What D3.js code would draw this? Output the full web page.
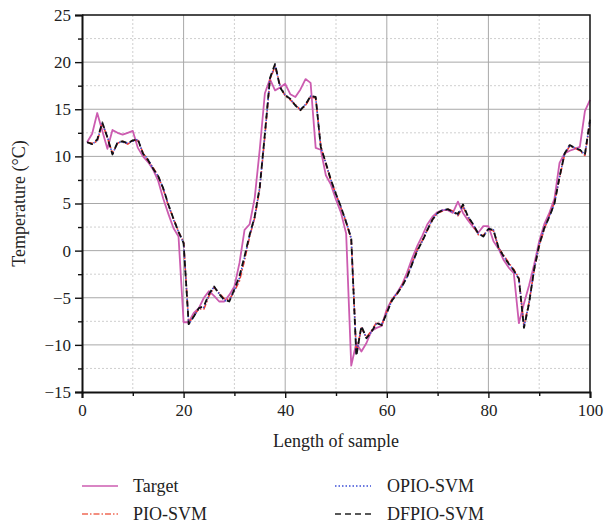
<!DOCTYPE html>
<html>
<head>
<meta charset="utf-8">
<script src="https://cdn.jsdelivr.net/npm/d3@7"></script>
<style>
  body { margin: 0; background: #fff; }
  svg text { font-family: "Liberation Serif", "Times New Roman", Times, "DejaVu Serif", "Noto Serif", serif; }
</style>
</head>
<body>
<div id="wrapper"></div>
<script>
// data (sample index 1..100)
const samples = d3.range(1, 101)

const target = [11.5,12.4,14.6,12.7,10.8,12.8,12.5,12.3,12.5,12.7,
  10.9,10.0,9.4,8.6,7.4,5.5,3.9,2.4,1.5,-7.6,
  -7.6,-6.6,-6.1,-5.0,-4.3,-4.8,-5.4,-5.4,-4.7,-3.8,
  -1.3,2.2,2.8,5.6,10.8,16.7,18.2,17.0,17.3,17.7,
  16.6,16.3,17.1,18.2,17.8,10.9,10.7,8.0,7.0,5.4,
  4.0,1.8,-12.2,-9.8,-10.7,-9.8,-8.5,-8.2,-8.0,-6.2,
  -5.2,-4.5,-3.6,-2.3,-0.8,0.5,1.6,2.8,3.6,4.1,
  4.3,4.3,4.0,5.2,4.0,3.2,2.5,1.9,2.6,2.6,
  1.0,0.2,-1.0,-1.8,-2.4,-7.7,-5.6,-3.7,-1.5,1.0,
  2.8,4.0,5.5,9.3,10.3,10.6,10.8,11.0,14.8,16.0]

const pioSvm = [11.5,11.4,11.6,13.5,12.0,10.3,11.4,11.6,11.3,11.7,
  11.7,10.4,9.6,8.8,7.9,6.5,4.8,3.4,2.0,0.9,
  -7.7,-6.9,-6.2,-6.2,-4.8,-3.9,-4.5,-5.1,-5.2,-4.3,
  -3.2,-1.0,1.5,3.5,6.6,12.2,18.1,19.6,17.5,16.4,
  16.0,15.5,14.9,15.4,16.3,16.2,11.1,9.2,7.4,6.0,
  4.5,3.0,1.2,-10.8,-8.2,-9.2,-8.5,-7.6,-7.9,-6.5,
  -5.2,-4.6,-3.7,-2.7,-1.3,0.1,1.1,2.2,3.3,4.0,
  4.2,4.4,4.2,3.7,4.7,3.5,2.7,1.7,1.6,2.3,
  2.1,0.3,-0.5,-1.3,-2.0,-2.9,-8.0,-5.5,-2.1,0.5,
  2.3,3.7,5.1,7.7,10.2,11.1,10.9,10.6,10.1,13.6]

const opioSvm = [11.5,11.3,11.7,13.5,12.1,10.2,11.5,11.5,11.4,11.6,
  11.8,10.3,9.7,8.7,7.9,6.6,4.9,3.3,2.0,0.8,
  -7.8,-7.0,-6.1,-6.0,-4.7,-3.8,-4.6,-5.3,-5.3,-4.2,
  -2.9,-0.7,1.6,3.6,6.7,12.3,18.2,19.7,17.4,16.5,
  16.1,15.4,15.0,15.5,16.4,16.3,11.0,9.3,7.5,5.9,
  4.6,3.1,1.3,-11.0,-8.1,-9.3,-8.6,-7.7,-7.8,-6.6,
  -5.3,-4.5,-3.8,-2.8,-1.4,0.0,1.0,2.3,3.3,4.0,
  4.3,4.4,4.1,3.8,4.8,3.6,2.8,1.8,1.5,2.3,
  2.2,0.3,-0.6,-1.4,-2.1,-3.0,-8.1,-5.6,-2.0,0.6,
  2.4,3.6,5.0,7.8,10.3,11.2,10.9,10.7,10.2,13.8]

const dfpioSvm = [11.5,11.3,11.8,13.6,12.0,10.2,11.5,11.6,11.4,11.7,
  11.8,10.3,9.6,8.7,7.9,6.6,4.9,3.4,2.0,0.8,
  -7.8,-7.0,-6.1,-5.9,-4.6,-3.8,-4.6,-5.2,-5.4,-4.1,
  -2.7,-0.6,1.7,3.6,6.8,12.4,18.3,19.8,17.3,16.5,
  16.1,15.4,14.9,15.5,16.4,16.3,11.0,9.3,7.5,6.0,
  4.6,3.0,1.3,-11.2,-8.0,-9.3,-8.6,-7.7,-7.9,-6.6,
  -5.3,-4.6,-3.8,-2.8,-1.4,0.0,1.0,2.2,3.3,4.0,
  4.3,4.4,4.1,3.9,4.9,3.6,2.8,1.8,1.5,2.3,
  2.2,0.3,-0.6,-1.4,-2.1,-3.0,-8.2,-5.6,-2.0,0.6,
  2.4,3.6,5.0,7.8,10.3,11.2,10.9,10.7,10.2,13.9]

const seriesNames = ["Target", "PIO-SVM", "OPIO-SVM", "DFPIO-SVM"]
const xTicks = [0, 20, 40, 60, 80, 100]
const yTicks = [-15, -10, -5, 0, 5, 10, 15, 20, 25]

const serifFont = "'Liberation Serif', 'Times New Roman', Times, 'DejaVu Serif', serif"

// dimensions
const width = 608
const height = 529
let dimensions = {
  width: width,
  height: height,
  margin: { top: 15, right: 18, bottom: 137, left: 82 },
}
dimensions.boundWidth = dimensions.width - dimensions.margin.left - dimensions.margin.right
dimensions.boundHeight = dimensions.height - dimensions.margin.top - dimensions.margin.bottom

const wrapper = d3.select("#wrapper")
  .append("svg")
    .attr("width", dimensions.width)
    .attr("height", dimensions.height)
    .style("font-family", serifFont)

const bounds = wrapper.append("g")
  .attr("transform", `translate(${dimensions.margin.left}, ${dimensions.margin.top})`)

// scales
const xScale = d3.scaleLinear()
  .domain([0, 100])
  .range([0, dimensions.boundWidth])

const yScale = d3.scaleLinear()
  .domain([-15, 25])
  .range([dimensions.boundHeight, 0])

// grid
const grid = bounds.append("g").attr("id", "grid")
grid.selectAll(".vminor")
  .data(d3.range(10, 100, 20))
  .join("line")
    .attr("x1", d => xScale(d)).attr("x2", d => xScale(d))
    .attr("y1", 0).attr("y2", dimensions.boundHeight)
    .attr("stroke", "#cfcfcf").attr("stroke-dasharray", "2,2")
grid.selectAll(".hminor")
  .data(d3.range(-12.5, 25, 5))
  .join("line")
    .attr("y1", d => yScale(d)).attr("y2", d => yScale(d))
    .attr("x1", 0).attr("x2", dimensions.boundWidth)
    .attr("stroke", "#cfcfcf").attr("stroke-dasharray", "2,2")
grid.selectAll(".vmajor")
  .data(xTicks.slice(1, -1))
  .join("line")
    .attr("x1", d => xScale(d)).attr("x2", d => xScale(d))
    .attr("y1", 0).attr("y2", dimensions.boundHeight)
    .attr("stroke", "#a8a8a8").attr("stroke-width", 1)
grid.selectAll(".hmajor")
  .data(yTicks.slice(1, -1))
  .join("line")
    .attr("y1", d => yScale(d)).attr("y2", d => yScale(d))
    .attr("x1", 0).attr("x2", dimensions.boundWidth)
    .attr("stroke", "#a8a8a8").attr("stroke-width", 1)

// lines
const lineGen = d3.line()
  .x((d, i) => xScale(samples[i]))
  .y(d => yScale(d))

const styles = [
  { data: target,   color: "#cc5cb0", width: 1.8, dash: null },
  { data: pioSvm,   color: "#f23a2c", width: 1.6, dash: "6,2,1.5,2" },
  { data: opioSvm,  color: "#3b4fd6", width: 1.6, dash: "1.5,2" },
  { data: dfpioSvm, color: "#111111", width: 1.8, dash: "6,4" },
]

bounds.append("g").attr("id", "series")
  .selectAll("path")
  .data(styles)
  .join("path")
    .attr("d", d => lineGen(d.data))
    .attr("fill", "none")
    .attr("stroke", d => d.color)
    .attr("stroke-width", d => d.width)
    .attr("stroke-dasharray", d => d.dash)
    .attr("stroke-linejoin", "round")

// frame (top and right)
bounds.append("path")
  .attr("d", `M0,0H${dimensions.boundWidth}V${dimensions.boundHeight}`)
  .attr("fill", "none")
  .attr("stroke", "#111")
  .attr("stroke-width", 1.5)

// axes
bounds.append("g")
  .attr("id", "y-axis")
  .call(d3.axisLeft(yScale).tickValues(yTicks).tickSize(7).tickPadding(4))
bounds.append("g")
  .call(d3.axisLeft(yScale).tickValues(d3.range(-12.5, 25, 5)).tickSize(4).tickFormat(""))
  .select(".domain").remove()

bounds.append("g")
  .attr("id", "x-axis")
  .attr("transform", `translate(0, ${dimensions.boundHeight})`)
  .call(d3.axisBottom(xScale).tickValues(xTicks).tickSize(6).tickPadding(6))
bounds.append("g")
  .attr("transform", `translate(0, ${dimensions.boundHeight})`)
  .call(d3.axisBottom(xScale).tickValues(d3.range(10, 100, 20)).tickSize(4).tickFormat(""))
  .select(".domain").remove()

// d3 axis puts font-family on the group; reset it
wrapper.selectAll("g").attr("font-family", null)

d3.selectAll("#x-axis path, #y-axis path")
  .attr("stroke", "#111")
  .attr("stroke-width", 2)
d3.selectAll("svg .tick line")
  .attr("stroke", "#111")
  .attr("stroke-width", 1.4)
d3.selectAll("#x-axis .tick text, #y-axis .tick text")
  .attr("font-size", 17)
  .attr("fill", "#222")

// axis labels
wrapper.append("text")
  .attr("x", dimensions.margin.left + dimensions.boundWidth / 2)
  .attr("y", 447)
  .attr("text-anchor", "middle")
  .attr("font-size", 18)
  .attr("fill", "#222")
  .text("Length of sample")

wrapper.append("text")
  .attr("transform", `translate(25, ${dimensions.margin.top + dimensions.boundHeight / 2}) rotate(-90)`)
  .attr("text-anchor", "middle")
  .attr("font-size", 18)
  .attr("fill", "#222")
  .text("Temperature (°C)")

// legend
const legendPos = [
  { x: 82, y: 486 },
  { x: 82, y: 514 },
  { x: 335, y: 486 },
  { x: 335, y: 514 },
]
const legendColors = ["#cc5cb0", "#f06a55", "#3b4fd6", "#222"]
const legend = wrapper.append("g").attr("id", "legend")
  .selectAll("g")
  .data(seriesNames)
  .join("g")
    .attr("transform", (d, i) => `translate(${legendPos[i].x}, ${legendPos[i].y})`)
legend.append("line")
  .attr("x1", 0).attr("x2", 36)
  .attr("stroke", (d, i) => legendColors[i])
  .attr("stroke-width", 1.6)
  .attr("stroke-dasharray", (d, i) => styles[i].dash)
legend.append("text")
  .attr("x", (d, i) => i < 2 ? 51 : 52)
  .attr("y", 6)
  .attr("font-size", 18)
  .attr("fill", "#222")
  .text(d => d)
</script>
</body>
</html>
